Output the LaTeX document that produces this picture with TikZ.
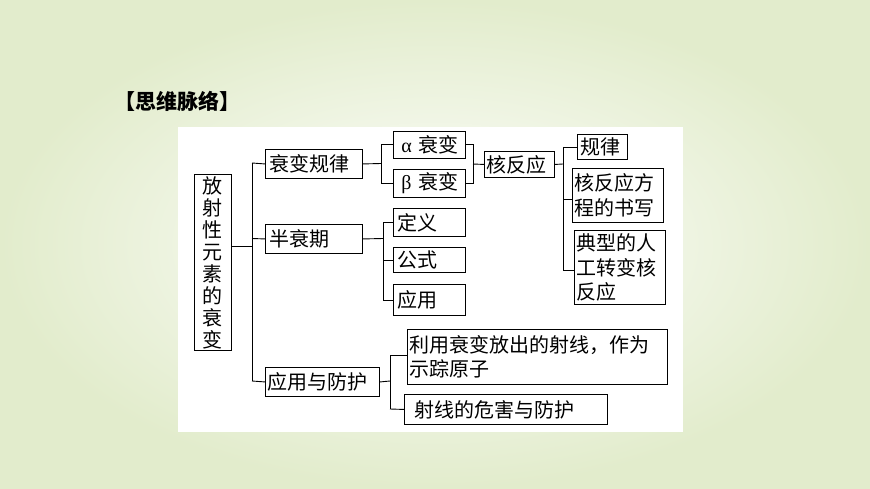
\documentclass[tikz,border=0pt]{standalone}
\usepackage{fontspec}
\setmainfont{Noto Sans CJK SC}
\newfontfamily\gk{Liberation Serif}
\usetikzlibrary{calc}
\definecolor{bgout}{RGB}{226,236,204}
\tikzset{
  box/.style={draw=black, line width=0.9pt, fill=white, anchor=north west, inner sep=2pt, font=\fontsize{20}{24.5}\selectfont, align=left},
  ln/.style={line width=0.9pt}
}
\newcommand{\bx}[6]{\node[box, minimum width=#3pt, minimum height=#4pt, text width=#5pt] (#1) at (#2) {#6};}
\begin{document}
\begin{tikzpicture}[x=1pt,y=-1pt]
\useasboundingbox (0,0) rectangle (870,489);
\shade[inner color=white, outer color=bgout] (0,0) rectangle (870,489);
\fill[white] (178,127) rectangle (683,432);
\node[anchor=west, font=\fontsize{21}{24}\selectfont\bfseries, inner sep=0] (title) at (114,101) {【思维脉络】};
\node[draw=black, line width=0.9pt, fill=white, minimum width=37pt, minimum height=176pt, text width=24pt, inner sep=0pt, font=\fontsize{20}{22}\selectfont, align=center, anchor=north west] (m) at (194,174) {放\\射\\性\\元\\素\\的\\衰\\变};
\bx{a}{265,149}{97}{29}{93}{\hspace*{2pt}衰变规律}
\bx{b}{265,224}{97}{29}{93}{\hspace*{2pt}半衰期}
\bx{c}{265,367}{114}{29}{110}{应用与防护}
\bx{al}{393,131}{72}{27}{68}{\hspace*{6pt}{\gk α} 衰变}
\bx{be}{393,169}{72}{28}{68}{\hspace*{6pt}{\gk β} 衰变}
\bx{d1}{393,208}{72}{28}{68}{\hspace*{2pt}定义}
\bx{d2}{393,247}{72}{25}{68}{\hspace*{2pt}公式}
\bx{d3}{393,284}{72}{31}{68}{\hspace*{2pt}应用}
\bx{h}{484,151}{70}{26}{66}{核反应}
\bx{g1}{577,134}{50}{25}{46}{\hspace*{1pt}规律}
\bx{g2}{572,168}{91}{54}{87}{核反应方\\程的书写}
\bx{g3}{574,230}{91}{74}{87}{典型的人\\工转变核\\反应}
\bx{e1}{407,329}{260}{55}{256}{利用衰变放出的射线，作为\\示踪原子}
\bx{e2}{404,394}{203}{30}{199}{\hspace*{8pt}射线的危害与防护}
% connectors
\coordinate (t0) at (252,246);
\draw[ln] (231,246) -- (t0);
\draw[ln] (252,163) -- (252,381);
\draw[ln] (252,163) -- (a.west);
\draw[ln] (252,238.5) -- (b.west);
\draw[ln] (252,381) -- (c.west);
\draw[ln] (a.east) -- (381,163.5);
\draw[ln] (al.west -| 381,0) -- (be.west -| 381,0);
\draw[ln] (al.west -| 381,0) -- (al.west);
\draw[ln] (be.west -| 381,0) -- (be.west);
\draw[ln] (al.east) -- (al.east -| 473,0) -- (be.east -| 473,0) -- (be.east);
\draw[ln] (473,164) -- (h.west);
\draw[ln] (b.east) -- (383,238.5);
\draw[ln] (d1.west -| 383,0) -- (d3.west -| 383,0);
\draw[ln] (d1.west -| 383,0) -- (d1.west);
\draw[ln] (d2.west -| 383,0) -- (d2.west);
\draw[ln] (d3.west -| 383,0) -- (d3.west);
\draw[ln] (h.east) -- (563,164);
\draw[ln] (563,147) -- (563,270);
\draw[ln] (563,147) -- (g1.west |- 0,147);
\draw[ln] (563,199) -- (g2.west |- 0,199);
\draw[ln] (563,270) -- (g3.west |- 0,270);
\draw[ln] (c.east) -- (390,381);
\draw[ln] (390,355) -- (390,409);
\draw[ln] (390,355) -- (e1.west |- 0,355);
\draw[ln] (390,409) -- (e2.west);
\end{tikzpicture}
\end{document}
